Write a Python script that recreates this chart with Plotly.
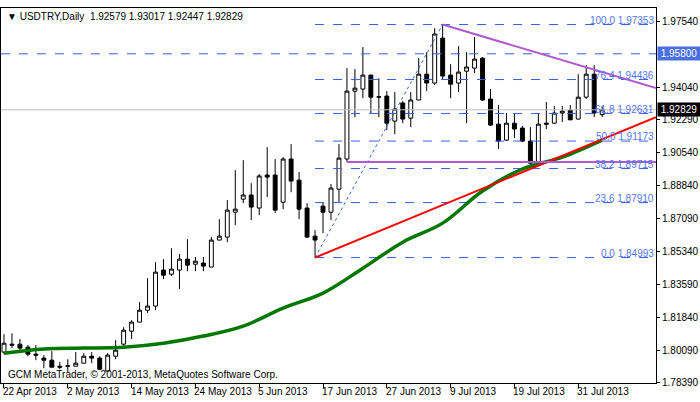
import plotly.graph_objects as go

# daily bars, index 0 = 22 Apr 2013
opens = [1.7998, 1.8040, 1.8040, 1.8024, 1.7987, 1.7966, 1.7955, 1.7923, 1.7923, 1.7923,
         1.7939, 1.7976, 1.7966, 1.7897, 1.7976, 1.8040, 1.8109, 1.8157, 1.8220, 1.8242,
         1.8433, 1.8411, 1.8433, 1.8491, 1.8464, 1.8470, 1.8449, 1.8592, 1.8608, 1.8740,
         1.8809, 1.8831, 1.8762, 1.8937, 1.8937, 1.8793, 1.9022, 1.8910, 1.8762, 1.8613,
         1.8772, 1.8740, 1.8862, 1.9022, 1.9382, 1.9393, 1.9467, 1.9350, 1.9356, 1.9223,
         1.9319, 1.9239, 1.9335, 1.9472, 1.9425, 1.9663, 1.9467, 1.9425, 1.9488, 1.9504,
         1.9557, 1.9340, 1.9207, 1.9122, 1.9212, 1.9186, 1.9117, 1.9002, 1.9212, 1.9212,
         1.9266, 1.9281, 1.9234, 1.9350, 1.9472, 1.92579]
highs = [1.8093, 1.8098, 1.8067, 1.8035, 1.8035, 1.7982, 1.8003, 1.7945, 1.7960, 1.7998,
         1.7992, 1.7998, 1.7976, 1.7992, 1.8061, 1.8130, 1.8167, 1.8263, 1.8390, 1.8475,
         1.8491, 1.8549, 1.8518, 1.8597, 1.8502, 1.8502, 1.8608, 1.8703, 1.8804, 1.8963,
         1.9016, 1.8894, 1.8942, 1.9085, 1.9022, 1.9032, 1.9101, 1.8953, 1.8788, 1.8645,
         1.8793, 1.8889, 1.9101, 1.9504, 1.9499, 1.9616, 1.9470, 1.9451, 1.9382, 1.9377,
         1.9329, 1.9377, 1.9557, 1.9589, 1.9716, 1.97353, 1.9525, 1.9621, 1.9589, 1.9669,
         1.9563, 1.9393, 1.9308, 1.9266, 1.9266, 1.9197, 1.9191, 1.9266, 1.9324, 1.9303,
         1.9303, 1.9308, 1.9472, 1.9520, 1.9520, 1.93017]
lows = [1.7987, 1.8019, 1.8008, 1.7976, 1.7955, 1.7913, 1.7918, 1.7907, 1.7892, 1.7923,
        1.7939, 1.7939, 1.7902, 1.7897, 1.7960, 1.8024, 1.8067, 1.8157, 1.8205, 1.8220,
        1.8385, 1.8401, 1.8332, 1.8427, 1.8427, 1.8427, 1.8449, 1.8592, 1.8581, 1.8671,
        1.8788, 1.8698, 1.8724, 1.8820, 1.8735, 1.8756, 1.8846, 1.8703, 1.8602, 1.84993,
        1.8629, 1.8698, 1.8793, 1.9006, 1.9244, 1.9345, 1.9266, 1.9244, 1.9175, 1.9154,
        1.9212, 1.9191, 1.9335, 1.9382, 1.9414, 1.9441, 1.9345, 1.9377, 1.9212, 1.9478,
        1.9330, 1.9197, 1.9075, 1.9118, 1.9133, 1.9112, 1.8995, 1.8995, 1.9181, 1.9210,
        1.9218, 1.9228, 1.9232, 1.9340, 1.9244, 1.92447]
closes = [1.8045, 1.8035, 1.8019, 1.7987, 1.7982, 1.7955, 1.7918, 1.7918, 1.7925, 1.7939,
          1.7976, 1.7966, 1.7907, 1.7982, 1.8008, 1.8114, 1.8157, 1.8220, 1.8242, 1.8422,
          1.8406, 1.8438, 1.8491, 1.8459, 1.8480, 1.8454, 1.8592, 1.8613, 1.8751, 1.8756,
          1.8831, 1.8767, 1.8932, 1.8926, 1.8751, 1.9022, 1.8905, 1.8756, 1.8608, 1.8592,
          1.8740, 1.8868, 1.9027, 1.9382, 1.9398, 1.9467, 1.9350, 1.9352, 1.9212, 1.9287,
          1.9234, 1.9335, 1.9472, 1.9425, 1.9685, 1.9462, 1.9419, 1.9483, 1.9510, 1.9552,
          1.9335, 1.9202, 1.9117, 1.9212, 1.9181, 1.9117, 1.9000, 1.9207, 1.9207, 1.9266,
          1.9276, 1.9230, 1.9350, 1.9472, 1.9266, 1.92829]

# moving average, read every 5 bars
ma_bars = [0, 5, 10, 15, 20, 25, 30, 35, 40, 45, 50, 55, 60, 65, 70, 75]
ma_vals = [1.7992, 1.8014, 1.8019, 1.8024, 1.8045, 1.8083, 1.8136, 1.8231,
           1.8311, 1.8443, 1.8581, 1.8682, 1.8852, 1.8969, 1.9032, 1.9122]

date_labels = ["22 Apr 2013", "2 May 2013", "14 May 2013", "24 May 2013", "5 Jun 2013",
               "17 Jun 2013", "27 Jun 2013", "9 Jul 2013", "19 Jul 2013", "31 Jul 2013"]

fib_levels = [0.0, 23.6, 38.2, 50.0, 61.8, 76.4, 100.0]
fib_prices = [1.84993, 1.87910, 1.89715, 1.91173, 1.92631, 1.94436, 1.97353]

price_ticks = [1.97540, 1.94040, 1.92290, 1.90540, 1.88840, 1.87090,
               1.85340, 1.83590, 1.81840, 1.80090, 1.78390]

last_price = 1.92829
level_line = 1.95800
support_trend = [1.84993, 1.9244]     # red, bar 39 -> right edge
resist_trend = [1.97353, 1.9398]      # purple, bar 55 -> right edge
flat_line = 1.9006                    # purple horizontal from bar 43

x_left, x_right = -0.375, 81.75
y_lo, y_hi = 1.7834, 1.9823
fib_blue = "#3a5fe0"
purple = "#b05ad0"
FONT = "Liberation Sans"

x = list(range(len(opens)))
fig = go.Figure()

# horizontal reference lines
fig.add_trace(go.Scatter(x=[x_left, x_right], y=[last_price, last_price], mode="lines",
                         line=dict(color="#c0c0c0", width=1), hoverinfo="skip"))
fig.add_trace(go.Scatter(x=[x_left, x_right], y=[level_line, level_line], mode="lines",
                         line=dict(color=fib_blue, width=1, dash="dash"), hoverinfo="skip"))
for p in fib_prices:
    fig.add_trace(go.Scatter(x=[39, x_right], y=[p, p], mode="lines",
                             line=dict(color=fib_blue, width=1, dash="dash"), hoverinfo="skip"))
fig.add_trace(go.Scatter(x=[39, 55], y=[fib_prices[0], fib_prices[-1]], mode="lines",
                         line=dict(color=fib_blue, width=1, dash="dot"), hoverinfo="skip"))

fig.add_trace(go.Scatter(x=ma_bars, y=ma_vals, mode="lines", line_shape="spline",
                         line=dict(color="#007800", width=3.5), hoverinfo="skip"))
fig.add_trace(go.Scatter(x=[39, x_right], y=support_trend, mode="lines",
                         line=dict(color="#ff0000", width=2), hoverinfo="skip"))
fig.add_trace(go.Scatter(x=[55, x_right], y=resist_trend, mode="lines",
                         line=dict(color=purple, width=2), hoverinfo="skip"))
fig.add_trace(go.Scatter(x=[43, x_right], y=[flat_line, flat_line], mode="lines",
                         line=dict(color=purple, width=2), hoverinfo="skip"))

fig.add_trace(go.Candlestick(x=x, open=opens, high=highs, low=lows, close=closes,
                             whiskerwidth=0,
                             increasing=dict(line=dict(color="black", width=1), fillcolor="white"),
                             decreasing=dict(line=dict(color="black", width=1), fillcolor="black")))

ann = []
for lv, p in zip(fib_levels, fib_prices):
    ann.append(dict(x=x_right, y=p, xref="x", yref="y", xanchor="right", yanchor="bottom",
                    text=f"{lv:.1f} {p:.5f}", showarrow=False, yshift=-3,
                    font=dict(color="#5577ee", size=10)))
for i, lab in enumerate(date_labels):
    ann.append(dict(x=i * 8, y=0, xref="x", yref="paper", xanchor="left", yanchor="top",
                    text=lab, showarrow=False, xshift=-3, yshift=-1, font=dict(size=10)))
ann.append(dict(x=1, y=level_line, xref="paper", yref="y", xanchor="left", text="1.95800",
                showarrow=False, bgcolor="#4a6fe0", font=dict(color="white", size=10),
                width=40, xshift=1))
ann.append(dict(x=1, y=last_price, xref="paper", yref="y", xanchor="left", text="1.92829",
                showarrow=False, bgcolor="black", font=dict(color="white", size=10),
                width=40, xshift=1))
ann.append(dict(x=0, y=1, xref="paper", yref="paper", xanchor="left", yanchor="top",
                text="▼ USDTRY,Daily  1.92579 1.93017 1.92447 1.92829", showarrow=False,
                xshift=4, yshift=-1, font=dict(size=10)))
ann.append(dict(x=0, y=0, xref="paper", yref="paper", xanchor="left", yanchor="bottom",
                text="GCM MetaTrader, © 2001-2013, MetaQuotes Software Corp.", showarrow=False,
                xshift=5, yshift=1, font=dict(size=10)))

fig.update_layout(
    width=700, height=402,
    margin=dict(l=1, r=44, t=8, b=19),
    plot_bgcolor="white", paper_bgcolor="white",
    showlegend=False,
    font=dict(family=FONT, color="black", size=10),
    annotations=ann,
    xaxis=dict(range=[x_left, x_right], rangeslider=dict(visible=False), showgrid=False,
               zeroline=False, tickvals=[i * 8 for i in range(len(date_labels))],
               showticklabels=False, ticks="outside", ticklen=4, tickcolor="black",
               showline=True, linecolor="black", mirror=True),
    yaxis=dict(range=[y_lo, y_hi], side="right", showgrid=False, zeroline=False,
               tickvals=price_ticks, ticktext=[f"{t:.5f}" for t in price_ticks],
               ticks="outside", ticklen=3, tickcolor="black", tickfont=dict(size=10),
               showline=True, linecolor="black", mirror=True),
)

fig.write_html("out.html", config={"displayModeBar": False},
               post_script="document.body.style.margin='0';document.body.style.overflow='hidden';")
